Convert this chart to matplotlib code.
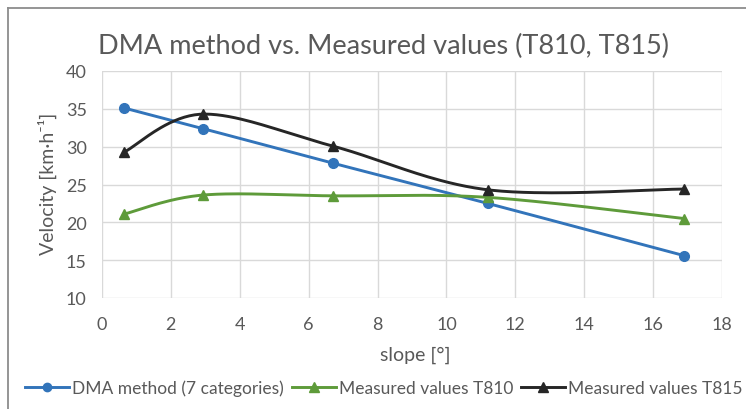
import numpy as np
import matplotlib
matplotlib.use("Agg")
import matplotlib.pyplot as plt
from matplotlib.lines import Line2D

plt.rcParams['font.family'] = ['Lato', 'DejaVu Sans']

# ---- data ----
slope = [0.65, 2.92, 6.72, 11.2, 16.9]
dma = [35.1, 32.4, 27.8, 22.5, 15.6]
t810 = [21.1, 23.6, 23.5, 23.3, 20.5]
t815 = [29.3, 34.3, 30.05, 24.3, 24.4]
series_names = ["DMA method (7 categories)", "Measured values T810", "Measured values T815"]
title = "DMA method vs. Measured values (T810, T815)"
xlabel = "slope [°]"
ylabel = "Velocity [km·h⁻¹]"
xticks = list(range(0, 19, 2))
yticks = list(range(10, 41, 5))

W, H = 746, 410
TXT = '#595959'
GRID = '#D9D9D9'
colors = ['#3274BA', '#5E9B3A', '#262626']
markers = ['o', '^', '^']


def smooth(x, y, n=40):
    """Excel-like smoothed line (cubic Bezier through points)."""
    P = np.column_stack([x, y]).astype(float)
    m = len(P)
    out = []
    for i in range(m - 1):
        p0 = P[i - 1] if i > 0 else P[i]
        p1 = P[i]
        p2 = P[i + 1]
        p3 = P[i + 2] if i + 2 < m else P[i + 1]
        c1 = p1 + (p2 - p0) / 6.0
        c2 = p2 - (p3 - p1) / 6.0
        t = np.linspace(0, 1, n)[:, None]
        seg = ((1 - t) ** 3) * p1 + 3 * ((1 - t) ** 2) * t * c1 + 3 * (1 - t) * t ** 2 * c2 + t ** 3 * p2
        if i > 0:
            seg = seg[1:]
        out.append(seg)
    S = np.vstack(out)
    return S[:, 0], S[:, 1]


fig = plt.figure(figsize=(W / 100, H / 100), dpi=100)
fig.patch.set_facecolor('white')

ax = fig.add_axes([102 / W, 1 - 299 / H, (722 - 102) / W, (299 - 72) / H])
ax.set_xlim(0, 18)
ax.set_ylim(10, 40)
ax.set_xticks(xticks)
ax.set_yticks(yticks)
ax.grid(True, color=GRID, linewidth=1.0)
ax.set_axisbelow(True)
for s in ax.spines.values():
    s.set_visible(False)
ax.tick_params(axis='both', length=0, labelcolor=TXT, labelsize=13)
ax.tick_params(axis='x', pad=13)
ax.tick_params(axis='y', pad=11)

handles = []
for ys, c, mk, name in zip([dma, t810, t815], colors, markers, series_names):
    sx, sy = smooth(slope, ys)
    ax.plot(sx, sy, color=c, linewidth=2.1, solid_capstyle='round', zorder=3)
    ax.plot(slope, ys, linestyle='none', marker=mk, markersize=7 if mk == 'o' else 7.5,
            color=c, zorder=4, clip_on=False)
    handles.append(Line2D([], [], color=c, linewidth=2.1, marker=mk,
                          markersize=6 if mk == 'o' else 6.5, label=name))

fig.text(383 / W, 1 - 46 / H, title, ha='center', va='center', fontsize=19.5, color=TXT)
fig.text(415 / W, 1 - 355 / H, xlabel, ha='center', va='center', fontsize=14, color=TXT)
fig.text(47 / W, 1 - 184 / H, ylabel, ha='center', va='center', rotation=90,
         fontsize=14, color=TXT)

# legend entries placed at their positions
for h, x0 in zip(handles, [25, 292, 521]):
    fig.legend(handles=[h], loc='center left', bbox_to_anchor=(x0 / W, 1 - 389 / H),
               frameon=False, fontsize=12.5, handlelength=2.55, handletextpad=0.18,
               borderpad=0, borderaxespad=0, labelcolor=TXT)

# outer chart border (top and left visible)
fig.add_artist(Line2D([8 / W, 1.0], [1 - 9 / H, 1 - 9 / H], color='#8c8c8c', linewidth=1.3,
                      transform=fig.transFigure))
fig.add_artist(Line2D([8 / W, 8 / W], [0.0, 1 - 9 / H], color='#8c8c8c', linewidth=1.3,
                      transform=fig.transFigure))

fig.savefig('out.png', dpi=100, facecolor='white')
